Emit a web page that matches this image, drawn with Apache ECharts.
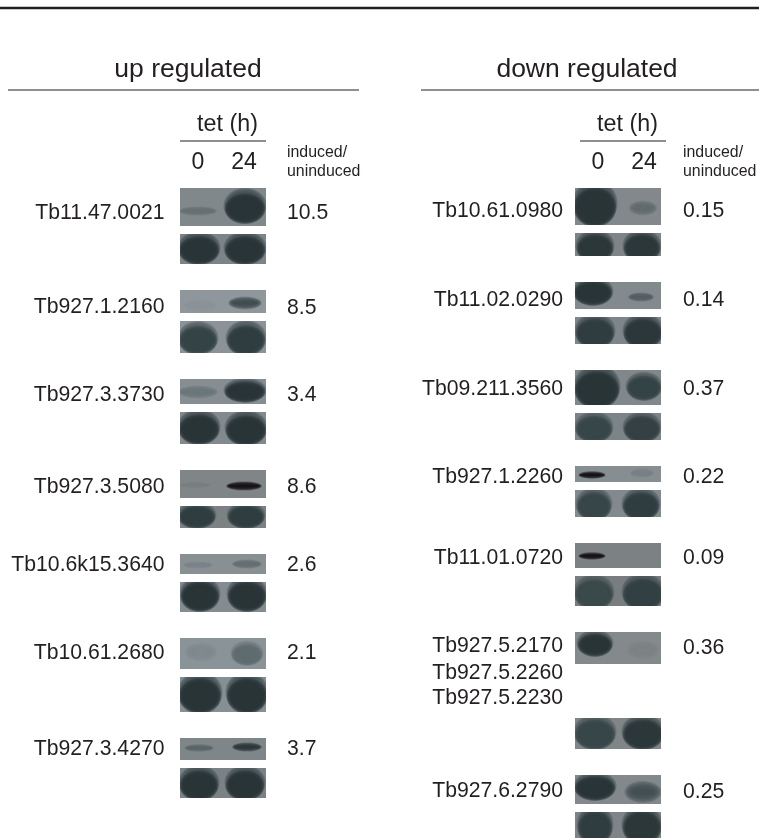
<!DOCTYPE html>
<html><head><meta charset="utf-8">
<style>html,body{margin:0;padding:0;background:#fff}#c{width:759px;height:838px}</style>
<script src="https://cdn.jsdelivr.net/npm/echarts@6/dist/echarts.min.js"></script>
</head><body><div id="c"></div>
<script>
// ---- values ----
const upGenes = ['Tb11.47.0021','Tb927.1.2160','Tb927.3.3730','Tb927.3.5080','Tb10.6k15.3640','Tb10.61.2680','Tb927.3.4270'];
const upRatios = ['10.5','8.5','3.4','8.6','2.6','2.1','3.7'];
const downGenes = ['Tb10.61.0980','Tb11.02.0290','Tb09.211.3560','Tb927.1.2260','Tb11.01.0720','Tb927.5.2170\nTb927.5.2260\nTb927.5.2230','Tb927.6.2790'];
const downRatios = ['0.15','0.14','0.37','0.22','0.09','0.36','0.25'];
const timeLabels = ['0','24'];
// band darkness, 0 = background, 1 = saturated film, >1 = black
const upTarget0  = [0.3,0.04,0.3,0.1,0.14,0.1,0.45];
const upTarget24 = [1.02,0.8,1.02,1.35,0.4,0.45,1.02];
const upLoading0  = [1.03,0.9,1.03,0.95,1.03,1.03,1.03];
const upLoading24 = [1.03,0.95,1.03,0.95,1.03,1.03,1.03];
const downTarget0  = [1.03,1.03,1.03,1.35,1.35,1.03,1.03];
const downTarget24 = [0.38,0.55,0.88,0.15,0,0.1,0.75];
const downLoading0  = [1,0.95,0.85,0.85,0.8,0.85,0.95];
const downLoading24 = [1,1,0.9,0.95,0.9,1,1];

// ---- layout (pixel scale of the hidden axes) ----
const W = 759, H = 838;
const upX = [180,266], downX = [575,661];
const upPanels = [[188,226,234,264],[290,313,321,353],[379,404,412,444],[470,498,506,528],[554,574,582,612],[638,669,677,712],[738,760,768,798]];
const downPanels = [[188,225,233,256],[282,309,317,344],[370,405,413,440],[466,482,490,517],[543,568,576,606],[632,664,718,749],[775,804,812,838]];
const upBg = [[128,136,140],[143,151,156],[134,142,146],[128,134,136],[136,144,148],[138,147,152],[126,134,138]];
const downBg = [[130,136,140],[130,138,142],[128,136,140],[134,142,146],[124,130,132],[132,138,140],[130,136,140]];
// each band: cx, cy, rx, ry  (target 0h, target 24h, loading 0h, loading 24h)
const upGeom = [
 [[198,211,17,2.5],[245,207,18,14],[199,249,18,13],[245,249,18,13]],
 [[200,305,14,3],[245,303,14,3.5],[198,339,17,13],[246,339,17,14]],
 [[198,392,17,3.5],[245,391,18,9],[199,428,18,14],[246,429,18,14]],
 [[195,485,14,1.5],[244,486,16,2.5],[197,516,16,10],[246,516,16,10]],
 [[198,565,13,1.8],[247,564,13,2.5],[200,595,17,14],[247,595,17,14]],
 [[201,652,12,5],[247,654,13,9],[200,694,19,17],[247,694,18,17]],
 [[199,748,13,2],[247,747,13,2.5],[199,784,17,14],[245,784,17,14]]
];
const downGeom = [
 [[595,205,19,19],[643,208,11,4],[595,247,16,13],[642,247,16,13]],
 [[593,292,17,11],[641,297,11,2.5],[595,332,17,14],[643,332,17,14]],
 [[597,388,20,18],[644,387,15,11],[594,428,16,12],[642,428,16,12]],
 [[592,475,12,2],[642,473,10,2.5],[594,505,15,13],[641,505,16,13]],
 [[592,556,12,2],[640,556,12,3],[594,593,17,14],[643,593,18,15]],
 [[595,644,15,10],[643,650,12,5],[595,733,18,14],[643,733,18,14]],
 [[595,787,18,11],[643,792,14,6],[595,826,15,16],[642,826,17,16]]
];
const lanePanel = [0,0,1,1];
const upTextY = [212,306,394,486,564,652,748];
const downTextY = [210,299,388,476,557,645,790];
const upRatioY = [212,307,394,486,564,652,748];
const downRatioY = [210,299,388,476,557,647,791];
const ink = '#231f20';
const SANS = '"Liberation Sans", Arial, sans-serif';
const textShift = 1.5;

// ---- derived rows ----
const panelRows = [], bandRows = [];
function addPanels(xr, panels, bgs, geom, levels) {
  panels.forEach((p, i) => {
    const bg = bgs[i];
    panelRows.push([xr[0], p[0], xr[1], p[1], bg[0], bg[1], bg[2]]);
    panelRows.push([xr[0], p[2], xr[1], p[3], bg[0]-4, bg[1]-4, bg[2]-4]);
    geom[i].forEach((g, k) => {
      const py = lanePanel[k] ? [p[2], p[3]] : [p[0], p[1]];
      const lv = levels[k][i];
      if (lv > 0) bandRows.push([g[0], g[1], g[2], g[3], lv, xr[0], py[0], xr[1], py[1], bg[0], bg[1], bg[2]]);
    });
  });
}
addPanels(upX, upPanels, upBg, upGeom, [upTarget0, upTarget24, upLoading0, upLoading24]);
addPanels(downX, downPanels, downBg, downGeom, [downTarget0, downTarget24, downLoading0, downLoading24]);

const textRows = [];
function t(str, x, y, size, align) { textRows.push({value:[x, y + textShift], name:str, size, align}); }
t('up regulated', 188, 68, 26.5, 'center');
t('down regulated', 587, 68, 26.5, 'center');
[[upX, 287],[downX, 683]].forEach(([xr, rx], n) => {
  const off = n ? 580 : 180;
  t('tet (h)', off + 47.5, 123, 23.3, 'center');
  t(timeLabels[0], off + 18, 161, 23, 'center');
  t(timeLabels[1], off + 64, 161, 23, 'center');
  t('induced/', rx, 151, 15.9, 'left');
  t('uninduced', rx, 170, 15.9, 'left');
});
upGenes.forEach((g, i) => { t(g, 164.5, upTextY[i], 21.2, 'right'); t(upRatios[i], 287, upRatioY[i], 21.2, 'left'); });
downGenes.forEach((g, i) => {
  const parts = g.split('\n');
  const ys = parts.length > 1 ? [645, 672, 697] : [downTextY[i]];
  parts.forEach((s, k) => t(s, 563, ys[k], 21.2, 'right'));
  t(downRatios[i], 683, downRatioY[i], 21.2, 'left');
});
const ruleRows = [
  [0,8,759,8,2.6],[8,90,359,90,1],[421,90,759,90,1],
  [180,141,266,141,1],[580,141,666,141,1]
];

function mix(bg, lv) {
  const dark = [43,57,60], black = [20,14,18];
  const a = Math.min(lv,1), c = bg.map((b,i)=>b+(dark[i]-b)*a);
  const e = Math.max(0, lv-1)*3;
  return 'rgb(' + c.map((v,i)=>Math.round(v+(black[i]-v)*Math.min(e,1))).join(',') + ')';
}
const px = (api, a, b) => api.coord([a, b]);

// a soft blot: many nested ellipses built up with low opacity
function softBlob(cx, cy, rx, ry, col, clip, steps, edge, op) {
  const out = [];
  for (let k = 0; k < steps; k++) {
    const d = edge * (1 - 2 * k / (steps - 1));
    const w = Math.max(0.5, rx + d), h = Math.max(0.4, ry * 1.08 + d);
    out.push({type:'ellipse', shape:{cx, cy, rx:w, ry:h}, style:{fill:col, opacity:op}, clipPath:clip});
  }
  return out;
}

const option = {
  animation: false,
  backgroundColor: '#fff',
  grid: {left:0, right:0, top:0, bottom:0},
  xAxis: {type:'value', min:0, max:W, show:false},
  yAxis: {type:'value', min:0, max:H, inverse:true, show:false},
  series: [
    {type:'custom', coordinateSystem:'cartesian2d', clip:false, silent:true, z:1, data:panelRows,
     renderItem:(p,api)=>{
       const a=px(api,api.value(0),api.value(1)), b=px(api,api.value(2),api.value(3));
       return {type:'rect', shape:{x:a[0],y:a[1],width:b[0]-a[0],height:b[1]-a[1]},
         style:{fill:`rgb(${api.value(4)},${api.value(5)},${api.value(6)})`}};
     }},
    {type:'custom', coordinateSystem:'cartesian2d', clip:false, silent:true, z:2, data:bandRows,
     renderItem:(p,api)=>{
       const c=px(api,api.value(0),api.value(1)), rx=api.size([api.value(2),0])[0], ry=api.size([0,api.value(3)])[1];
       const lv=api.value(4), bg=[api.value(9),api.value(10),api.value(11)];
       const a=px(api,api.value(5),api.value(6)), b=px(api,api.value(7),api.value(8));
       const clip={type:'rect',shape:{x:a[0],y:a[1],width:b[0]-a[0],height:b[1]-a[1]}};
       const children = ry > 7
         ? softBlob(c[0],c[1]-ry*0.1,rx+1,ry,mix(bg,lv*0.7),clip,8,2.6,0.3)
             .concat(softBlob(c[0],c[1]+ry*0.12,rx,ry*0.86,mix(bg,lv),clip,8,2.4,0.34))
         : softBlob(c[0],c[1],rx,ry,mix(bg,lv),clip,8,Math.max(1.5,ry*0.75),0.32);
       return {type:'group',children};
     }},
    {type:'custom', coordinateSystem:'cartesian2d', clip:false, silent:true, z:3, data:ruleRows,
     renderItem:(p,api)=>{
       const a=px(api,api.value(0),api.value(1)), b=px(api,api.value(2),api.value(3)), w=api.value(4);
       return {type:'rect',shape:{x:a[0],y:a[1]-w/2,width:b[0]-a[0],height:w},style:{fill:ink}};
     }},
    {type:'custom', coordinateSystem:'cartesian2d', clip:false, silent:true, z:4, data:textRows,
     renderItem:(p,api)=>{
       const r=textRows[p.dataIndex], c=px(api,r.value[0],r.value[1]);
       return {type:'text',style:{text:r.name,x:c[0],y:c[1],fill:ink,
         font:r.size+'px '+SANS,align:r.align,verticalAlign:'middle'}};
     }}
  ]
};
const chart = echarts.init(document.getElementById('c'), null, {renderer:'canvas'});
chart.setOption(option);
</script></body></html>
